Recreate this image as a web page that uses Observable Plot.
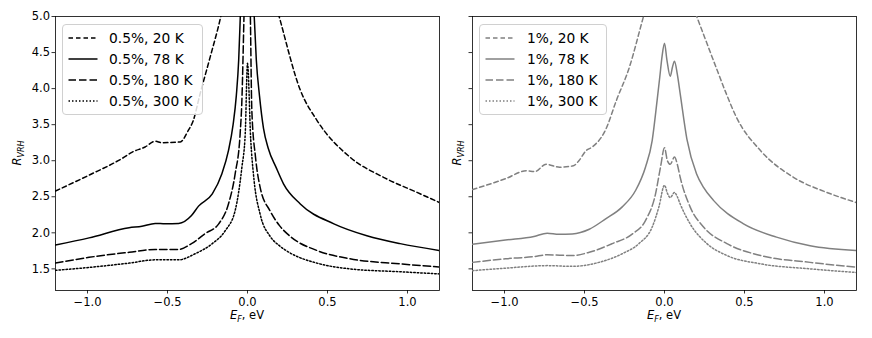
<!DOCTYPE html>
<html><head><meta charset="utf-8">
<script src="https://cdn.jsdelivr.net/npm/d3@7"></script>
<script src="https://cdn.jsdelivr.net/npm/@observablehq/plot@0.6"></script>
<style>
body{margin:0;background:#fff;font-family:"DejaVu Sans",sans-serif;}
#wrap{position:relative;width:872px;height:338px;overflow:hidden;background:#fff;}
#wrap svg{position:absolute;top:0;overflow:visible;}
.legend{position:absolute;box-sizing:border-box;border:1px solid #d0d0d0;border-radius:4px;background:rgba(255,255,255,0.85);}
.legend .row{position:absolute;height:20px;line-height:20px;white-space:nowrap;font-size:13.8px;color:#000;}
.legend .row svg{position:absolute;left:0;top:0;}
</style></head><body><div id="wrap"></div>
<script>
// ---------- data ----------
const xTicks = [-1.0, -0.5, 0.0, 0.5, 1.0];
const yTicks = [1.5, 2.0, 2.5, 3.0, 3.5, 4.0, 4.5, 5.0];

// 0.5 % panel
const ef05_20 = [-1.2, -0.99, -0.785, -0.72, -0.64, -0.577, -0.535, -0.42, -0.37, -0.34, -0.296, -0.233, -0.17, -0.12, 0.0, 0.15, 0.204, 0.33, 0.434, 0.64, 0.85, 1.06, 1.2];
const r05_20  = [2.58, 2.80, 3.03, 3.12, 3.19, 3.27, 3.25, 3.26, 3.42, 3.55, 3.93, 4.44, 4.97, 5.5, 7.0, 5.4, 4.95, 3.98, 3.56, 3.05, 2.77, 2.56, 2.42];
const ef05_78 = [-1.2, -0.99, -0.74, -0.66, -0.577, -0.514, -0.43, -0.35, -0.306, -0.22, -0.16, -0.119, -0.09, -0.07, -0.055, -0.045, 0.0, 0.042, 0.055, 0.075, 0.1, 0.13, 0.18, 0.225, 0.33, 0.54, 0.746, 0.954, 1.2];
const r05_78  = [1.83, 1.93, 2.07, 2.09, 2.13, 2.125, 2.13, 2.24, 2.37, 2.54, 2.82, 3.14, 3.5, 3.9, 4.4, 5.0, 8.0, 5.0, 4.4, 3.9, 3.45, 3.17, 2.9, 2.68, 2.40, 2.125, 1.96, 1.85, 1.755];
const ef05_180 = [-1.2, -0.99, -0.74, -0.577, -0.43, -0.35, -0.264, -0.18, -0.119, -0.077, -0.046, -0.035, -0.022, 0.0, 0.018, 0.027, 0.05, 0.079, 0.142, 0.2, 0.267, 0.434, 0.64, 0.954, 1.2];
const r05_180  = [1.58, 1.66, 1.73, 1.77, 1.77, 1.85, 1.99, 2.125, 2.40, 2.82, 3.375, 3.84, 5.0, 7.0, 5.0, 3.70, 3.05, 2.63, 2.3, 2.1, 1.95, 1.755, 1.64, 1.57, 1.525];
const ef05_300 = [-1.2, -0.99, -0.74, -0.577, -0.43, -0.327, -0.22, -0.139, -0.077, -0.035, -0.014, 0.0, 0.02, 0.04, 0.08, 0.142, 0.2, 0.267, 0.434, 0.64, 0.954, 1.2];
const r05_300  = [1.48, 1.52, 1.58, 1.625, 1.625, 1.71, 1.85, 2.03, 2.31, 2.91, 3.38, 4.35, 3.3, 2.75, 2.25, 1.95, 1.82, 1.72, 1.58, 1.50, 1.46, 1.43];

// 1 % panel
const ef1_20 = [-1.2, -0.994, -0.864, -0.81, -0.74, -0.656, -0.57, -0.535, -0.49, -0.452, -0.37, -0.30, -0.219, -0.135, -0.08, 0.03, 0.15, 0.21, 0.33, 0.386, 0.45, 0.6, 0.806, 1.015, 1.2];
const r1_20  = [2.60, 2.75, 2.86, 2.85, 2.95, 2.91, 2.93, 3.0, 3.14, 3.19, 3.42, 3.84, 4.30, 4.97, 5.4, 6.0, 5.3, 4.95, 4.25, 3.93, 3.6, 3.14, 2.77, 2.56, 2.42];
const ef1_78 = [-1.2, -0.994, -0.816, -0.733, -0.66, -0.577, -0.47, -0.37, -0.264, -0.18, -0.119, -0.077, -0.046, -0.03, -0.015, 0.0, 0.015, 0.036, 0.05, 0.0625, 0.08, 0.098, 0.14, 0.2, 0.244, 0.306, 0.494, 0.70, 0.91, 1.2];
const r1_78  = [1.84, 1.90, 1.95, 1.995, 1.98, 1.985, 2.05, 2.19, 2.36, 2.59, 2.91, 3.28, 3.84, 4.15, 4.45, 4.63, 4.4, 4.17, 4.3, 4.38, 4.2, 3.93, 3.3, 2.82, 2.63, 2.45, 2.125, 1.94, 1.82, 1.755];
const ef1_180 = [-1.2, -0.994, -0.816, -0.733, -0.577, -0.47, -0.327, -0.2, -0.119, -0.056, -0.025, 0.0, 0.018, 0.036, 0.0625, 0.08, 0.098, 0.16, 0.244, 0.39, 0.6, 0.91, 1.2];
const r1_180  = [1.59, 1.64, 1.67, 1.695, 1.685, 1.73, 1.85, 1.985, 2.17, 2.54, 2.91, 3.18, 3.0, 2.95, 3.05, 2.95, 2.77, 2.36, 2.08, 1.85, 1.685, 1.59, 1.525];
const ef1_300 = [-1.2, -0.994, -0.733, -0.577, -0.41, -0.264, -0.16, -0.077, -0.035, 0.0, 0.018, 0.036, 0.0625, 0.08, 0.098, 0.16, 0.265, 0.39, 0.6, 0.91, 1.2];
const r1_300  = [1.475, 1.51, 1.545, 1.535, 1.59, 1.71, 1.85, 2.08, 2.36, 2.66, 2.55, 2.49, 2.56, 2.5, 2.40, 2.125, 1.85, 1.685, 1.57, 1.50, 1.45];

const names05 = ["0.5%, 20 K", "0.5%, 78 K", "0.5%, 180 K", "0.5%, 300 K"];
const names1  = ["1%, 20 K", "1%, 78 K", "1%, 180 K", "1%, 300 K"];

// ---------- styles ----------
const dashes = ["4.5,3", null, "7.5,3", "1.5,2"];

const fmt = d => (d < 0 ? "\u2212" : "") + Math.abs(d).toFixed(1);
const wrap = document.getElementById("wrap");

function rows(xs, ys) { return xs.map((v, i) => ({x: v, y: ys[i]})); }

function panel({series, names, color, left, width, mL, mR, showYLabels, legendBox, ylabX}) {
  const marks = [
    Plot.frame({stroke: "black", strokeWidth: 0.8}),
    Plot.axisX({ticks: xTicks, tickFormat: fmt, tickSize: 3.5, tickPadding: 4, strokeWidth: 0.8, label: null, fontSize: 11.5}),
    Plot.axisY({ticks: yTicks, tickFormat: showYLabels ? (d => d.toFixed(1)) : (() => ""), tickSize: 3.5, tickPadding: 2, strokeWidth: 0.8, label: null, fontSize: 11.5})
  ];
  series.forEach((s, i) => {
    marks.push(Plot.line(rows(s[0], s[1]), {x: "x", y: "y", stroke: color, strokeWidth: 1.5,
      strokeDasharray: dashes[i] || undefined, curve: "monotone-x", clip: true}));
  });
  const svg = Plot.plot({
    width, height: 338, marginLeft: mL, marginRight: mR, marginTop: 16, marginBottom: 48,
    x: {domain: [-1.2, 1.2]},
    y: {domain: [1.2, 5.0]},
    style: {fontFamily: "DejaVu Sans", fontSize: "11.5px", color: "black", background: "transparent", overflow: "visible"},
    marks
  });
  svg.style.left = left + "px";
  wrap.appendChild(svg);
  const sel = d3.select(svg);
  // x label  E_F, eV
  const cx = mL + (width - mL - mR) / 2;
  const xt = sel.append("text").attr("x", cx).attr("y", 319).attr("text-anchor", "middle")
    .attr("font-family", "DejaVu Sans").attr("font-size", 11.5).attr("fill", "black");
  xt.append("tspan").attr("font-style", "italic").text("E");
  xt.append("tspan").attr("font-style", "italic").attr("font-size", 8).attr("dy", 2.5).text("F");
  xt.append("tspan").attr("dy", -2.5).text(", eV");
  // y label  R_VRH
  const yt = sel.append("text").attr("transform", `translate(${ylabX},153) rotate(-90)`).attr("text-anchor", "middle")
    .attr("font-family", "DejaVu Sans").attr("font-size", 11.5).attr("fill", "black");
  yt.append("tspan").attr("font-style", "italic").text("R");
  yt.append("tspan").attr("font-style", "italic").attr("font-size", 8).attr("dy", 2.5).text("VRH");

  // legend
  const lg = document.createElement("div");
  lg.className = "legend";
  Object.assign(lg.style, {left: legendBox.x + "px", top: legendBox.y + "px", width: legendBox.w + "px", height: legendBox.h + "px"});
  names.forEach((n, i) => {
    const r = document.createElement("div");
    r.className = "row";
    r.style.top = (2.5 + i * 21.3) + "px";
    r.style.left = "5px";
    r.innerHTML = `<svg width="30" height="20"><line x1="0.5" x2="29.5" y1="10" y2="10" stroke="${color}" stroke-width="1.5" ${dashes[i] ? `stroke-dasharray="${dashes[i]}"` : ""}/></svg><span style="position:absolute;left:${legendBox.tx}px;top:0">${n}</span>`;
    lg.appendChild(r);
  });
  wrap.appendChild(lg);
}

panel({series: [[ef05_20, r05_20], [ef05_78, r05_78], [ef05_180, r05_180], [ef05_300, r05_300]],
  names: names05, color: "black", left: 0, width: 441, mL: 55, mR: 2, showYLabels: true,
  legendBox: {x: 62, y: 24, w: 141, h: 91, tx: 41}, ylabX: 21});
panel({series: [[ef1_20, r1_20], [ef1_78, r1_78], [ef1_180, r1_180], [ef1_300, r1_300]],
  names: names1, color: "gray", left: 436, width: 436, mL: 36, mR: 16, showYLabels: false,
  legendBox: {x: 479, y: 24, w: 128, h: 91, tx: 42}, ylabX: 25});
</script></body></html>
